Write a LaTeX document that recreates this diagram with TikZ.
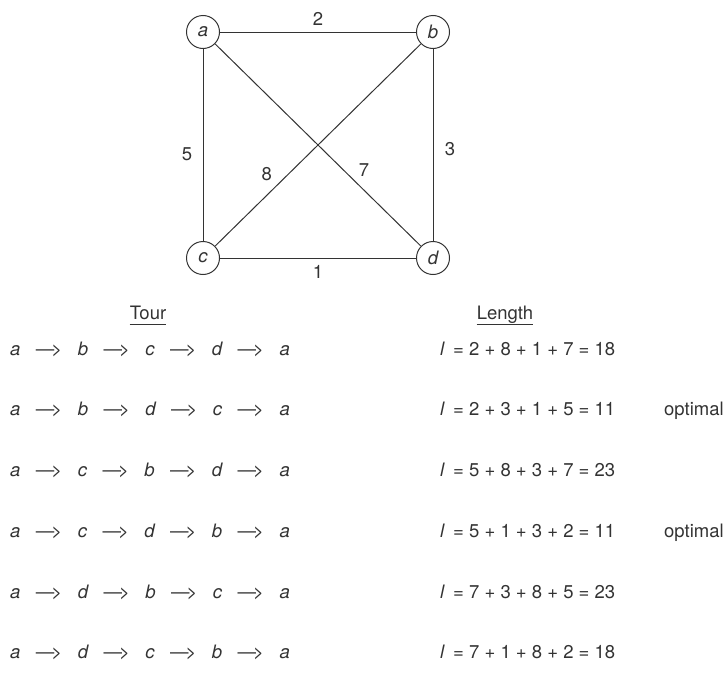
\documentclass[tikz,border=0pt]{standalone}
\usepackage{fontspec}
\setmainfont{TeX Gyre Heros}
\usepackage{xcolor}
\usepackage{tikz}
\usetikzlibrary{calc,positioning}
\definecolor{Ink}{HTML}{333333}
\newcommand{\go}{\hspace{15.5pt}{\upshape---\kern-3pt>}\hspace{15.5pt}}

\begin{document}
\begin{tikzpicture}[x=1pt,y=-1pt,
  vert/.style={draw=Ink,circle,minimum size=33pt,inner sep=0pt,line width=1pt,text=Ink,font=\fontsize{18.5}{22}\selectfont\itshape},
  edge/.style={draw=Ink,line width=1pt},
  wt/.style={text=Ink,font=\fontsize{18.5}{22}\selectfont},
  row/.style={anchor=base west,inner sep=0pt,text=Ink,font=\fontsize{18.5}{22}\selectfont}]
\useasboundingbox (0,0) rectangle (725,680);
% graph
\node[vert] (a) at (203,32) {a};
\node[vert] (b) at (433,32) {b};
\node[vert] (c) at (203,258) {c};
\node[vert] (d) at (433,258) {d};
\draw[edge] (a)--node[wt,above=3pt]{2} (b);
\draw[edge] (b)--node[wt,right=8pt,pos=0.52]{3} (d);
\draw[edge] (a)--node[wt,left=7pt,pos=0.55]{5} (c);
\draw[edge] (c)--node[wt,below=4pt]{1} (d);
\draw[edge] (c)--node[wt,above left=1pt and 1pt,pos=0.3]{8} (b);
\draw[edge] (a)--node[wt,above right=1pt and 0pt,pos=0.68]{7} (d);
% table heads
\node[row,anchor=base] (tour) at (148,319) {Tour};
\node[row,anchor=base] (len) at (505,319) {Length};
\draw[Ink,line width=1pt] ([yshift=-5pt]tour.base west)--([yshift=-5pt]tour.base east);
\draw[Ink,line width=1pt] ([yshift=-5pt]len.base west)--([yshift=-5pt]len.base east);
% tours
\node[row] (t1) at (10,355) {\itshape a\go b\go c\go d\go a};
\node[row] (t2) at (10,415) {\itshape a\go b\go d\go c\go a};
\node[row] (t3) at (10,476) {\itshape a\go c\go b\go d\go a};
\node[row] (t4) at (10,537) {\itshape a\go c\go d\go b\go a};
\node[row] (t5) at (10,598) {\itshape a\go d\go b\go c\go a};
\node[row] (t6) at (10,658) {\itshape a\go d\go c\go b\go a};
\node[row] (l1) at (440,355) {\textit{l} \,= 2 + 8 + 1 + 7 = 18};
\node[row] (l2) at (440,415) {\textit{l} \,= 2 + 3 + 1 + 5 = 11};
\node[row] (l3) at (440,476) {\textit{l} \,= 5 + 8 + 3 + 7 = 23};
\node[row] (l4) at (440,537) {\textit{l} \,= 5 + 1 + 3 + 2 = 11};
\node[row] (l5) at (440,598) {\textit{l} \,= 7 + 3 + 8 + 5 = 23};
\node[row] (l6) at (440,658) {\textit{l} \,= 7 + 1 + 8 + 2 = 18};
\node[row] (o2) at (664,415) {optimal};
\node[row] (o4) at (664,537) {optimal};
\end{tikzpicture}
\end{document}
